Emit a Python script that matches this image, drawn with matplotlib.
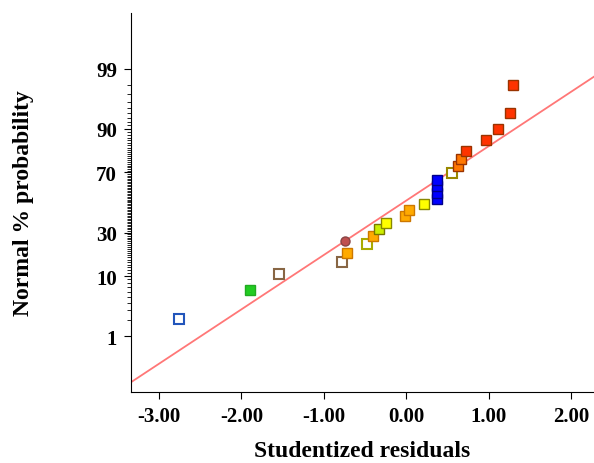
import matplotlib
matplotlib.use("Agg")
import matplotlib.pyplot as plt
import numpy as np
from statistics import NormalDist

nd = NormalDist()
z = nd.inv_cdf

resid = [-2.76, -1.89, -1.54, -0.78, -0.72, -0.74, -0.48, -0.40, -0.33, -0.25, -0.02, 0.04, 0.22,
         0.38, 0.38, 0.38, 0.38, 0.56, 0.63, 0.66, 0.73, 0.97, 1.12, 1.26, 1.30]
zval = [-2.03, -1.52, -1.25, -1.04, -0.88, -0.67, -0.72, -0.58, -0.46, -0.36, -0.23, -0.13, -0.03,
        0.06, 0.16, 0.28, 0.39, 0.51, 0.64, 0.76, 0.90, 1.09, 1.28, 1.56, 2.05]
faces = ['white', '#22cc22', 'white', 'white', '#ffaa00', '#c05050', 'white', '#ffaa00', '#ccee00',
         '#ffff00', '#ffaa00', '#ffaa00', '#ffff00', '#0000ff', '#0000ff', '#0000ff', '#0000ff',
         'white', '#ff7700', '#ff7700', '#ff3300', '#ff3300', '#ff3300', '#ff3300', '#ff3300']
edges = ['#2255bb', '#22aa22', '#886644', '#886644', '#cc7700', '#884444', '#aaaa00', '#cc7700', '#777700',
         '#888800', '#cc7700', '#cc7700', '#888800', '#000088', '#000088', '#000088', '#000088',
         '#998800', '#993300', '#993300', '#993300', '#993300', '#993300', '#993300', '#993300']
markers = ['s'] * 25
markers[5] = 'o'
line_x = [-3.34, 2.28]
line_z = [-3.13, 2.19]
ytick_pct = [1, 10, 30, 70, 90, 99]
xticks = [-3, -2, -1, 0, 1, 2]

F = 'Liberation Serif'
fig = plt.figure(figsize=(5.94, 4.64), dpi=100)
ax = fig.add_axes([0.2205, 0.153, 0.7795, 0.817])
ax.plot(line_x, line_z, color='#ff7777', lw=1.3, zorder=1)
for x, y, f, e, m in zip(resid, zval, faces, edges, markers):
    ms = 7.5 if (f == 'white') else 6.5
    ax.plot(x, y, marker=m, ms=ms, mfc=f, mec=e, mew=1.5 if f == 'white' else 1, ls='none', zorder=3)
ax.set_xlim(-3.34, 2.28)
ax.set_ylim(-3.30, 3.30)
for s in ['top', 'right']:
    ax.spines[s].set_visible(False)
ax.set_xticks(xticks)
ax.set_xticklabels([f"{v:.2f}" for v in xticks], fontfamily=F, fontweight='bold', fontsize=15)
ax.set_yticks([z(p / 100) for p in ytick_pct])
ax.set_yticklabels([str(p) for p in ytick_pct], fontfamily=F, fontweight='bold', fontsize=15)
minor = [2, 3, 4, 5, 6, 7, 8, 9] + list(range(11, 30)) + list(range(31, 70)) + list(range(71, 90)) + [91, 92, 93, 94, 95, 96, 97, 98]
ax.set_yticks([z(p / 100) for p in minor], minor=True)
ax.tick_params(axis='y', which='minor', length=3, width=0.6)
ax.tick_params(axis='both', which='major', length=5, pad=5)
ax.set_xlabel('Studentized residuals', fontfamily=F, fontweight='bold', fontsize=17, labelpad=10)
ax.set_ylabel('Normal % probability', fontfamily=F, fontweight='bold', fontsize=17, labelpad=45)
fig.savefig('out.png', dpi=100)
